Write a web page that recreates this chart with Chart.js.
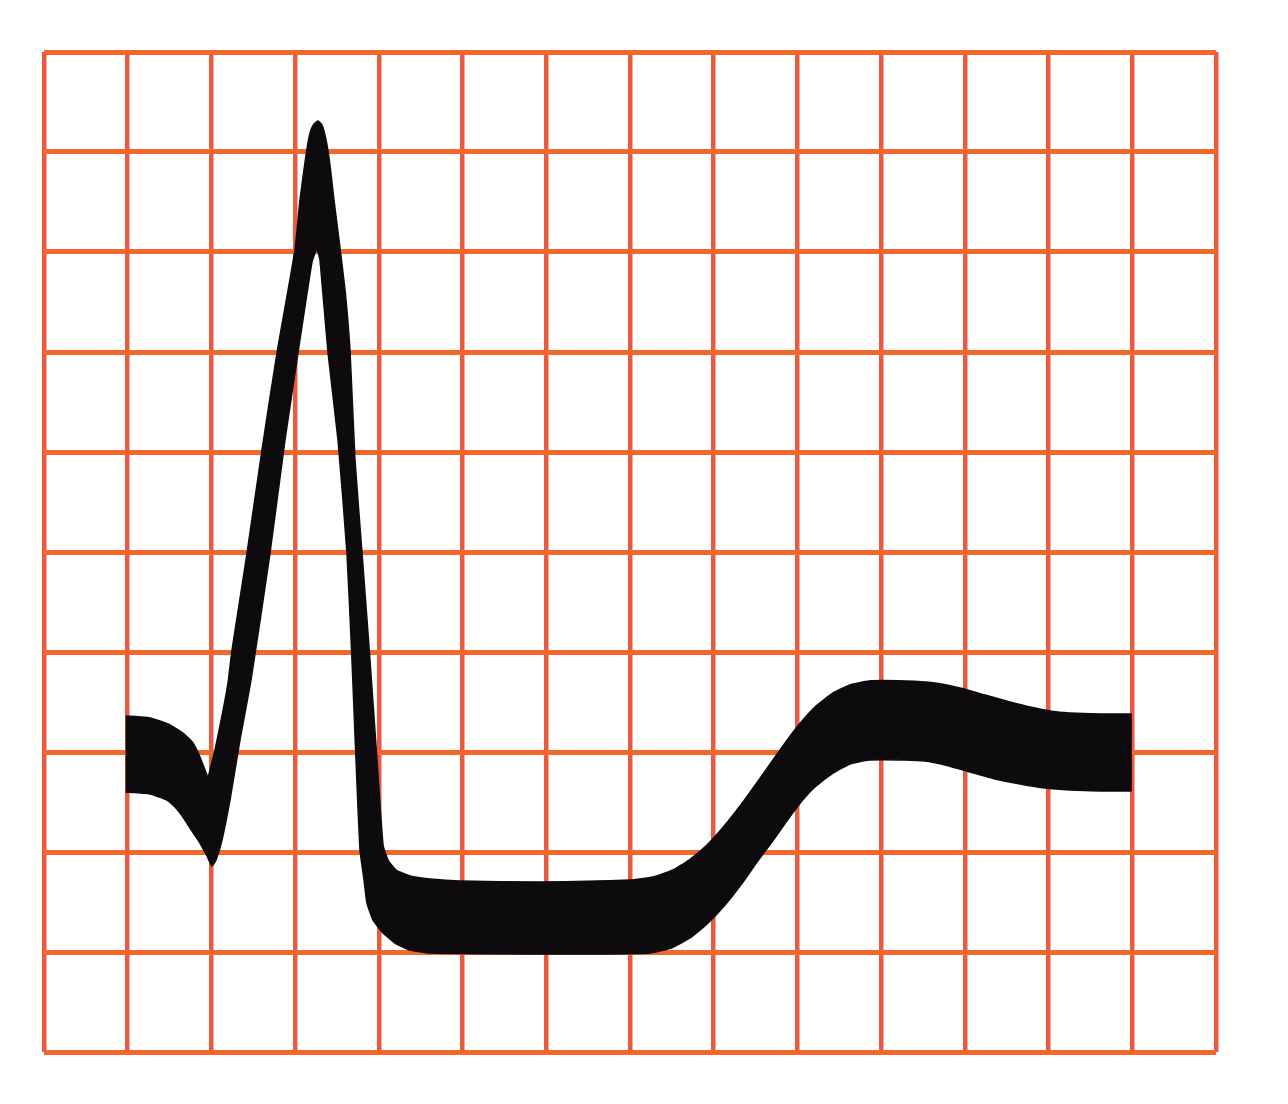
<!DOCTYPE html>
<html>
<head>
<meta charset="utf-8">
<title>ECG complex on grid paper</title>
<script src="https://cdn.jsdelivr.net/npm/chart.js@4/dist/chart.umd.min.js"></script>
<style>
  html, body { margin: 0; padding: 0; background: #ffffff; }
  #wrap { width: 1288px; height: 1104px; }
</style>
</head>
<body>
<div id="wrap"><canvas id="c" width="1288" height="1104"></canvas></div>
<script>
// Grid extent (large boxes)
const gridColumns = 14;
const gridRows = 10;

// Outline of the inked trace (grid units), clockwise: top edge, R wave, ST/T top, end, then back along the lower edge.
// Sharp corners are listed twice so the smoothing keeps them crisp.
const outlineX = [
  0.975, 1.266, 1.481, 1.660, 1.780, 1.863, 1.923, 1.959, 1.959,
  2.043, 2.126, 2.198, 2.246, 2.413, 2.604, 2.783, 2.998, 3.058, 3.130, 3.178, 3.225, 3.273,
  3.321, 3.369, 3.416, 3.464, 3.524, 3.596, 3.655, 3.715, 3.799, 3.894, 3.978, 4.050,
  4.109, 4.205, 4.372, 4.611, 4.969, 5.925, 7.000, 7.275, 7.514, 7.705, 7.920,
  8.135, 8.350, 8.565, 8.792, 8.995, 9.210, 9.425, 9.628, 9.855, 10.285, 10.643,
  10.942, 11.241, 11.539, 11.778, 12.017, 12.256, 12.614, 12.985, 12.985,
  12.985, 12.985, 12.614, 12.256, 11.957, 11.659, 11.360, 11.061, 10.763, 10.524, 10.285, 9.855, 9.628,
  9.425, 9.210, 9.043, 8.864, 8.696, 8.517, 8.350, 8.135, 7.920, 7.717, 7.490,
  7.239, 6.642, 5.925, 4.611, 4.372, 4.193, 4.038, 3.930, 3.858, 3.823, 3.775,
  3.727, 3.679, 3.619, 3.512, 3.393, 3.297, 3.261, 3.261,
  3.201, 3.034, 2.879, 2.700, 2.473, 2.341, 2.222, 2.126, 2.055, 2.007,
  1.947, 1.863, 1.744, 1.660, 1.565, 1.469, 1.266, 0.975
];
const outlineY = [
  3.36, 3.34, 3.28, 3.19, 3.09, 2.95, 2.82, 2.74, 2.74,
  3.02, 3.36, 3.69, 4.02, 4.92, 6.02, 6.99, 8.02, 8.52, 8.97, 9.19, 9.28, 9.31,
  9.27, 9.12, 8.87, 8.52, 8.12, 7.62, 7.02, 5.92, 4.99, 3.92, 2.92, 2.07,
  1.92, 1.82, 1.76, 1.73, 1.71, 1.70, 1.72, 1.75, 1.82, 1.92, 2.07,
  2.27, 2.50, 2.75, 3.02, 3.25, 3.45, 3.59, 3.67, 3.71, 3.71, 3.69,
  3.64, 3.57, 3.50, 3.45, 3.41, 3.39, 3.38, 3.38, 3.38,
  2.61, 2.61, 2.61, 2.62, 2.64, 2.68, 2.73, 2.80, 2.87, 2.91, 2.92, 2.92, 2.88,
  2.79, 2.65, 2.50, 2.30, 2.10, 1.90, 1.70, 1.47, 1.28, 1.14, 1.04,
  0.99, 0.98, 0.98, 0.99, 1.02, 1.09, 1.20, 1.32, 1.49, 1.72, 2.02,
  2.92, 3.92, 4.99, 6.12, 6.99, 7.92, 8.04, 8.04,
  7.90, 6.99, 6.12, 4.99, 3.72, 3.12, 2.52, 2.12, 1.92, 1.86,
  1.96, 2.09, 2.24, 2.35, 2.45, 2.52, 2.58, 2.60
];

const tracePoints = outlineX.map((x, i) => ({ x: x, y: outlineY[i] }));

new Chart(document.getElementById('c'), {
  type: 'line',
  data: {
    datasets: [{
      label: 'ECG trace',
      data: tracePoints,
      borderColor: '#0d0b0d',
      backgroundColor: '#0d0b0d',
      borderWidth: 1.5,
      borderJoinStyle: 'round',
      pointRadius: 0,
      tension: 0.15,
      fill: 'shape'
    }]
  },
  options: {
    responsive: false,
    animation: false,
    devicePixelRatio: 1,
    layout: { padding: { left: 44, right: 72, top: 52, bottom: 52 } },
    plugins: { legend: { display: false }, tooltip: { enabled: false } },
    scales: {
      x: {
        type: 'linear',
        min: 0, max: gridColumns,
        ticks: { display: false, stepSize: 1, autoSkip: false, maxTicksLimit: 100 },
        grid: { color: '#ea5a40', lineWidth: 4.5, drawTicks: false },
        border: { display: false }
      },
      y: {
        type: 'linear',
        min: 0, max: gridRows,
        ticks: { display: false, stepSize: 1, autoSkip: false, maxTicksLimit: 100 },
        grid: { color: '#f3662c', lineWidth: 5, drawTicks: false },
        border: { display: false }
      }
    }
  }
});
</script>
</body>
</html>
